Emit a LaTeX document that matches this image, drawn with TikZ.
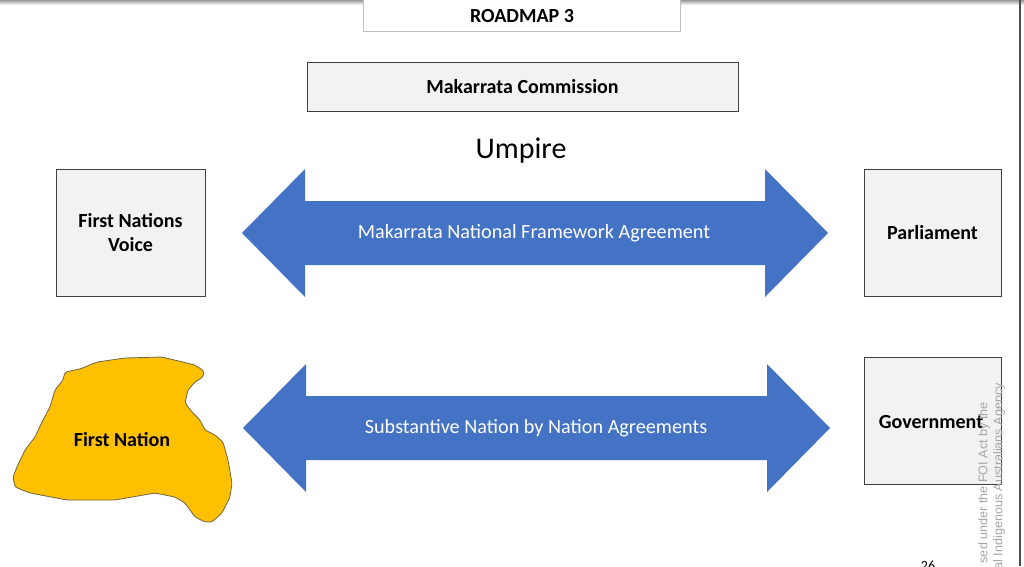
\documentclass[tikz,border=0pt]{standalone}
\usepackage{fontspec}
\setmainfont{Carlito}
\newfontfamily\markfont{Liberation Sans}
\definecolor{boxgrey}{HTML}{F2F2F2}
\definecolor{arrowblue}{HTML}{4472C4}
\definecolor{nationgold}{HTML}{FFC000}
\definecolor{nationedge}{HTML}{6E6445}
\begin{document}
\begin{tikzpicture}[x=1pt, y=-1pt,
  labelbox/.style={draw=black!75, fill=boxgrey, line width=1pt, inner sep=0pt, align=center, font=\bfseries\fontsize{20}{24}\selectfont},
  arrowtext/.style={text=white, inner sep=0pt, font=\fontsize{20.2}{24}\selectfont},
  blockarrow/.style={fill=arrowblue},
  watermark/.style={rotate=90, anchor=east, inner sep=0pt, text=black!35, font=\markfont\fontsize{12.6}{15}\selectfont}]
\path[use as bounding box, clip] (0,0) rectangle (1024,566);
\fill[white] (0,0) rectangle (1024,566);
% page edges
\fill[top color=black!40, bottom color=white] (0,0) rectangle (1024,5);
\draw[black!70, line width=2pt] (1020,0) -- (1020,566);
% title and umpire
\node[draw=black!25, fill=white, line width=0.8pt, minimum width=317pt, minimum height=36pt, inner sep=0pt] (title) at (521.5,13) {};
\node[inner sep=0pt, anchor=base, font=\bfseries\fontsize{20}{24}\selectfont] (titletext) at (522,22) {ROADMAP 3};
\node[labelbox, minimum width=431pt, minimum height=49pt] (mc) at (522.5,86.5) {Makarrata Commission};
\node[inner sep=0pt, anchor=base, font=\fontsize{30}{36}\selectfont] (umpire) at (521,158) {Umpire};
% side boxes
\node[labelbox, minimum width=149pt, minimum height=127pt] (fnv) at (130.5,232.5) {First Nations\\Voice};
\node[labelbox, minimum width=137pt, minimum height=127pt] (parl) at (932.5,232.5) {Parliament};
\node[labelbox, minimum width=137pt, minimum height=127pt] (gov) at (932.5,420.5) {};
\node[inner sep=0pt, anchor=base, font=\bfseries\fontsize{20}{24}\selectfont] (govtext) at (931,428) {Government};
% first nation
\draw[fill=nationgold, draw=nationedge, line width=0.8pt, rounded corners=2.5pt]
  (65,372) -- (80,369) -- (97,362) -- (125,358) -- (162,357) -- (195,365) -- (204,371)
  -- (203,377) -- (195,382) -- (188,390) -- (185,403) -- (192,412) -- (200,420) -- (205,430)
  -- (215,435) -- (223,442) -- (228,460) -- (232,483) -- (230,497) -- (222,513) -- (212,522)
  -- (205,522) -- (195,517) -- (185,503) -- (175,497) -- (155,493) -- (115,500) -- (67,500)
  -- (30,493) -- (15,487) -- (13,477) -- (17,467) -- (25,450) -- (35,437) -- (42,422)
  -- (50,407) -- (55,390) -- (63,380) -- cycle;
\node[inner sep=0pt, font=\bfseries\fontsize{20}{24}\selectfont] (fn) at (122,440) {First Nation};
% block arrows
\coordinate (a1l) at (242,233);
\coordinate (a1r) at (828,233);
\fill[blockarrow] (a1l) -- ++(63,-64) -- ++(0,32) -- ++(460,0) -- ++(0,-32) -- (a1r)
  -- ++(-63,64) -- ++(0,-32) -- ++(-460,0) -- ++(0,32) -- cycle;
\node[arrowtext] (mnfa) at (534,233) {Makarrata National Framework Agreement};
\coordinate (a2l) at (243,428);
\coordinate (a2r) at (830,428);
\fill[blockarrow] (a2l) -- ++(63,-64) -- ++(0,32) -- ++(461,0) -- ++(0,-32) -- (a2r)
  -- ++(-63,64) -- ++(0,-32) -- ++(-461,0) -- ++(0,32) -- cycle;
\node[arrowtext] (snna) at (536,428) {Substantive Nation by Nation Agreements};
% page number and release stamp
\node[anchor=north, inner sep=0pt, font=\fontsize{14}{16}\selectfont] (page) at (928,561) {26};
\node[watermark] (mark1) at (984,402) {sed under the FOI Act by the};
\node[watermark] (mark2) at (999,383) {nal Indigenous Australians Agency};
\end{tikzpicture}
\end{document}
